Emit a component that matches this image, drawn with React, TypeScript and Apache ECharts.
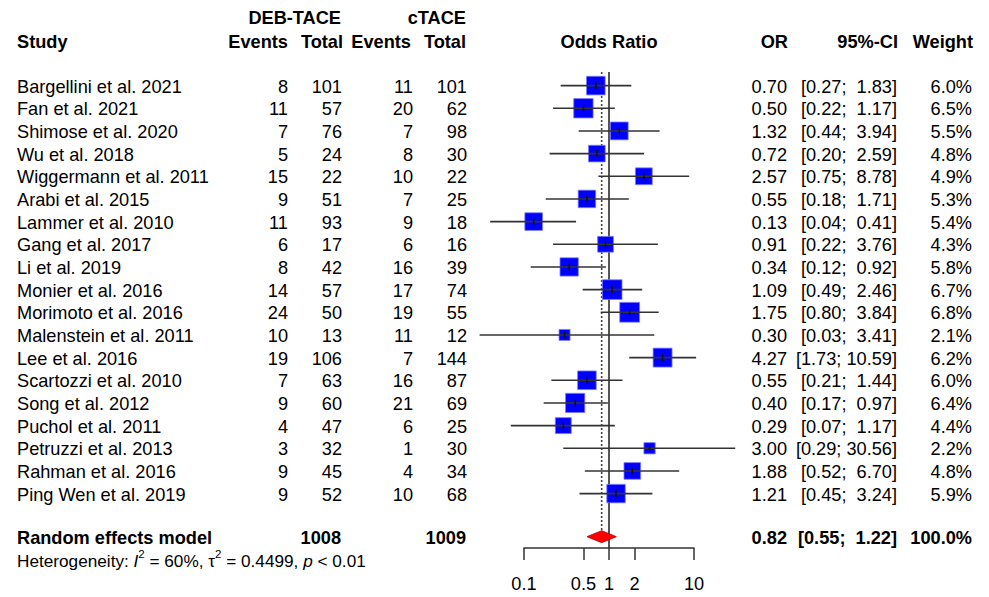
import React, { useEffect, useRef } from "react";
import * as echarts from "echarts";

// ---------- data ----------
const studies = [
  "Bargellini et al. 2021", "Fan et al. 2021", "Shimose et al. 2020", "Wu et al. 2018",
  "Wiggermann et al. 2011", "Arabi et al. 2015", "Lammer et al. 2010", "Gang et al. 2017",
  "Li et al. 2019", "Monier et al. 2016", "Morimoto et al. 2016", "Malenstein et al. 2011",
  "Lee et al. 2016", "Scartozzi et al. 2010", "Song et al. 2012", "Puchol et al. 2011",
  "Petruzzi et al. 2013", "Rahman et al. 2016", "Ping Wen et al. 2019",
];
const debEvents = [8, 11, 7, 5, 15, 9, 11, 6, 8, 14, 24, 10, 19, 7, 9, 4, 3, 9, 9];
const debTotal = [101, 57, 76, 24, 22, 51, 93, 17, 42, 57, 50, 13, 106, 63, 60, 47, 32, 45, 52];
const cEvents = [11, 20, 7, 8, 10, 7, 9, 6, 16, 17, 19, 11, 7, 16, 21, 6, 1, 4, 10];
const cTotal = [101, 62, 98, 30, 22, 25, 18, 16, 39, 74, 55, 12, 144, 87, 69, 25, 30, 34, 68];
const oddsRatio = [0.70, 0.50, 1.32, 0.72, 2.57, 0.55, 0.13, 0.91, 0.34, 1.09, 1.75, 0.30, 4.27, 0.55, 0.40, 0.29, 3.00, 1.88, 1.21];
const ciLower = [0.27, 0.22, 0.44, 0.20, 0.75, 0.18, 0.04, 0.22, 0.12, 0.49, 0.80, 0.03, 1.73, 0.21, 0.17, 0.07, 0.29, 0.52, 0.45];
const ciUpper = [1.83, 1.17, 3.94, 2.59, 8.78, 1.71, 0.41, 3.76, 0.92, 2.46, 3.84, 3.41, 10.59, 1.44, 0.97, 1.17, 30.56, 6.70, 3.24];
const weights = [6.0, 6.5, 5.5, 4.8, 4.9, 5.3, 5.4, 4.3, 5.8, 6.7, 6.8, 2.1, 6.2, 6.0, 6.4, 4.4, 2.2, 4.8, 5.9];

const summaryLabel = "Random effects model";
const summaryDebTotal = 1008;
const summaryCTotal = 1009;
const summaryOR = 0.82;
const summaryLower = 0.55;
const summaryUpper = 1.22;
const summaryWeight = 100.0;
const heterogeneity = { i2: "60%", tau2: "0.4499", p: "< 0.01" };

const axisTicks = [0.1, 0.5, 1, 2, 10];
const nullValue = 1;

// ---------- layout ----------
const FONT = '"Liberation Sans", Arial, Helvetica, sans-serif';
const FS = 18.2;
const FS_HET = 17.2;
const Y_MIN = -0.6;
const Y_MAX = 20.4;
const SUMMARY_ROW = 19.9;
const COL = { study: 17, debE: 288, debT: 342, cE: 413, cT: 467, or: 787, ci: 897, w: 972 };

const fmt2 = (v: number) => v.toFixed(2);
const ciText = (lo: number, hi: number) => {
  let h = fmt2(hi);
  while (h.length < 5) h = "\u00A0" + h;
  return "[" + fmt2(lo) + "; " + h + "]";
};

function txt(text: string, x: number, y: number, align: string, bold = false, size = FS) {
  return {
    type: "text",
    x,
    y,
    style: {
      text,
      fill: "#000",
      fontSize: size,
      fontFamily: FONT,
      fontWeight: bold ? "bold" : "normal",
      align,
      verticalAlign: "middle",
    },
    silent: true,
  };
}

export default function App() {
  const ref = useRef<HTMLDivElement>(null);

  useEffect(() => {
    if (!ref.current) return;
    const chart = echarts.init(ref.current, undefined, { renderer: "svg" });

    const forestData = studies.map((_, i) => [oddsRatio[i], i, ciLower[i], ciUpper[i], weights[i]]);
    const tableData = studies.map((_, i) => [nullValue, i]);

    const option: any = {
      animation: false,
      backgroundColor: "#ffffff",
      grid: { left: 524, width: 170, top: 72, height: 476, containLabel: false },
      xAxis: {
        type: "log",
        logBase: 10,
        min: 0.1,
        max: 10,
        position: "bottom",
        axisLine: { show: true, onZero: false, lineStyle: { color: "#333", width: 1.5 } },
        axisTick: { show: true, length: 12, customValues: axisTicks, lineStyle: { color: "#333", width: 1.5 } },
        axisLabel: {
          show: true,
          customValues: axisTicks,
          interval: 0,
          hideOverlap: false,
          margin: 27,
          color: "#000",
          fontSize: FS,
          fontFamily: FONT,
          formatter: (v: number) => String(+Number(v).toPrecision(3)),
        },
        splitLine: { show: false },
        minorTick: { show: false },
      },
      yAxis: { type: "value", min: Y_MIN, max: Y_MAX, inverse: true, show: false },
      series: [
        {
          type: "custom",
          name: "reference",
          z: 1,
          silent: true,
          clip: false,
          data: [[nullValue, summaryOR]],
          renderItem: (params: any, api: any) => {
            const top1 = api.coord([nullValue, Y_MIN]);
            const bot1 = api.coord([nullValue, Y_MAX]);
            const topS = api.coord([summaryOR, Y_MIN]);
            const botS = api.coord([summaryOR, SUMMARY_ROW]);
            return {
              type: "group",
              children: [
                { type: "line", shape: { x1: top1[0], y1: top1[1], x2: bot1[0], y2: bot1[1] }, style: { stroke: "#2a2a2a", lineWidth: 1.6 } },
                { type: "line", shape: { x1: topS[0], y1: topS[1], x2: botS[0], y2: botS[1] - 6 }, style: { stroke: "#444", lineWidth: 1.6, lineDash: [2, 2] } },
              ],
            };
          },
        },
        {
          type: "custom",
          name: "studies",
          z: 2,
          silent: true,
          clip: false,
          encode: { x: [0, 2, 3], y: 1 },
          data: forestData,
          renderItem: (params: any, api: any) => {
            const est = api.value(0), row = api.value(1), lo = api.value(2), hi = api.value(3), w = api.value(4);
            const c = api.coord([est, row]);
            const l = api.coord([lo, row]);
            const h = api.coord([hi, row]);
            const s = 7.6 * Math.sqrt(w);
            return {
              type: "group",
              children: [
                { type: "rect", shape: { x: c[0] - s / 2, y: c[1] - s / 2, width: s, height: s }, style: { fill: "#0000ff", stroke: "#7b7bff", lineWidth: 0.8 } },
                { type: "line", shape: { x1: l[0], y1: c[1], x2: h[0], y2: c[1] }, style: { stroke: "#333", lineWidth: 1.6 } },
                { type: "line", shape: { x1: c[0], y1: c[1] - 3.5, x2: c[0], y2: c[1] + 3.5 }, style: { stroke: "#111", lineWidth: 1.5 } },
              ],
            };
          },
        },
        {
          type: "custom",
          name: "summary",
          z: 3,
          silent: true,
          clip: false,
          data: [[summaryOR, SUMMARY_ROW, summaryLower, summaryUpper]],
          renderItem: (params: any, api: any) => {
            const row = api.value(1);
            const c = api.coord([api.value(0), row]);
            const l = api.coord([api.value(2), row]);
            const h = api.coord([api.value(3), row]);
            const hh = 6;
            return {
              type: "polygon",
              shape: { points: [[l[0], c[1]], [c[0], c[1] - hh], [h[0], c[1]], [c[0], c[1] + hh]] },
              style: { fill: "#ff0000", stroke: "#aa0000", lineWidth: 0.8 },
            };
          },
        },
        {
          type: "custom",
          name: "table",
          z: 4,
          silent: true,
          clip: false,
          data: tableData,
          renderItem: (params: any, api: any) => {
            const i = params.dataIndex;
            const y = api.coord([nullValue, api.value(1)])[1] + 1;
            return {
              type: "group",
              children: [
                txt(studies[i], COL.study, y, "left"),
                txt(String(debEvents[i]), COL.debE, y, "right"),
                txt(String(debTotal[i]), COL.debT, y, "right"),
                txt(String(cEvents[i]), COL.cE, y, "right"),
                txt(String(cTotal[i]), COL.cT, y, "right"),
                txt(fmt2(oddsRatio[i]), COL.or, y, "right"),
                txt(ciText(ciLower[i], ciUpper[i]), COL.ci, y, "right"),
                txt(weights[i].toFixed(1) + "%", COL.w, y, "right"),
              ],
            };
          },
        },
        {
          type: "custom",
          name: "summaryTable",
          z: 4,
          silent: true,
          clip: false,
          data: [[nullValue, SUMMARY_ROW]],
          renderItem: (params: any, api: any) => {
            const y = api.coord([nullValue, api.value(1)])[1] + 1;
            return {
              type: "group",
              children: [
                txt(summaryLabel, COL.study, y, "left", true),
                txt(String(summaryDebTotal), COL.debT - 1, y, "right", true),
                txt(String(summaryCTotal), COL.cT - 1, y, "right", true),
                txt(fmt2(summaryOR), COL.or, y, "right", true),
                txt(ciText(summaryLower, summaryUpper), COL.ci, y, "right", true),
                txt(summaryWeight.toFixed(1) + "%", COL.w, y, "right", true),
              ],
            };
          },
        },
      ],
      graphic: [
        txt("DEB-TACE", 341, 18, "right", true),
        txt("cTACE", 466, 18, "right", true),
        txt("Study", COL.study, 42, "left", true),
        txt("Events", 288, 42, "right", true),
        txt("Total", 343, 42, "right", true),
        txt("Events", 411, 42, "right", true),
        txt("Total", 466, 42, "right", true),
        txt("Odds Ratio", 609, 42, "center", true),
        txt("OR", 788, 42, "right", true),
        txt("95%-CI", 898, 42, "right", true),
        txt("Weight", 973, 42, "right", true),
        {
          type: "text",
          x: 17,
          y: 561,
          silent: true,
          style: {
            text:
              "{n|Heterogeneity: }{i|I}{s|2}{n| = " + heterogeneity.i2 + ", τ}{s|2}{n| = " +
              heterogeneity.tau2 + ", }{i|p}{n| " + heterogeneity.p + "}",
            fill: "#000",
            fontSize: FS_HET,
            fontFamily: FONT,
            align: "left",
            verticalAlign: "middle",
            rich: {
              n: { fontSize: FS_HET, fontFamily: FONT, fill: "#000", lineHeight: 27 },
              i: { fontSize: FS_HET, fontFamily: FONT, fontStyle: "italic", fill: "#000", lineHeight: 27 },
              s: { fontSize: 11.5, fontFamily: FONT, fill: "#000", lineHeight: 14, verticalAlign: "top" },
            },
          },
        },
      ],
    };

    chart.setOption(option);
    return () => chart.dispose();
  }, []);

  return (
    <div
      ref={ref}
      style={{ position: "absolute", left: 0, top: 0, width: 989, height: 597, background: "#fff" }}
    />
  );
}
